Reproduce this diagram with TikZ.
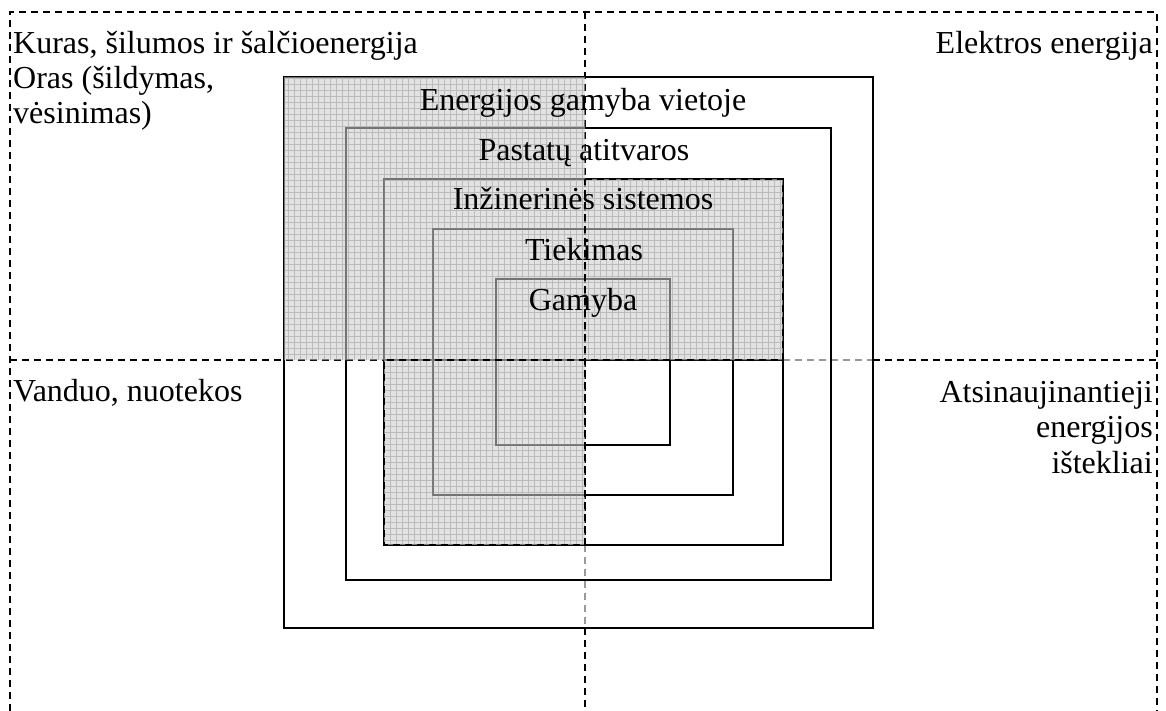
\documentclass[tikz,border=0pt]{standalone}
\usepackage{fontspec}
\setmainfont{Liberation Serif}
\begin{document}
\begin{tikzpicture}[x=1pt,y=-1pt,
  quad/.style={line width=1.4pt, dash pattern=on 7pt off 5pt},
  quadfaint/.style={quad, draw=black!40},
  sqbox/.style={line width=1.8pt, draw=black},
  lbl/.style={font=\fontsize{32}{35}\selectfont, inner sep=0pt},
]
\useasboundingbox (0,0) rectangle (1166,711);

% dashed quadrant frame
\draw[quad] (10,711) -- (10,12) -- (1157,12) -- (1157,711);
\draw[quad] (10,360) -- (783,360);
\draw[quadfaint] (783,360) -- (873,360);
\draw[quad] (873,360) -- (1157,360);
\draw[quad] (585,12) -- (585,545);
\draw[quadfaint] (585,545) -- (585,628);
\draw[quad] (585,628) -- (585,711);

% nested squares
\draw[sqbox] (284,77) rectangle (873,628);
\draw[sqbox] (346,128) rectangle (831,580);
\draw[sqbox] (384,179) rectangle (783,545);
\draw[sqbox] (433,229) rectangle (733,495);
\draw[sqbox] (496,279) rectangle (670,445);

% shaded zone with fine grid
\begin{scope}
  \clip (284,77) -- (585,77) -- (585,179) -- (783,179) -- (783,360)
        -- (585,360) -- (585,545) -- (384,545) -- (384,360) -- (284,360) -- cycle;
  \fill[black!20, opacity=0.56] (284,77) rectangle (783,545);
  \draw[black!45, opacity=0.45, line width=0.6pt, step=6pt] (284,77) grid (783,545);
\end{scope}

% dashed outline of the shaded engineering-systems part
\draw[quad] (585,179) -- (783,179) -- (783,360) -- (384,360) -- (384,545) -- (585,545) -- (585,179);

% square labels
\node[lbl, anchor=base] (l1) at (583,111) {Energijos gamyba vietoje};
\node[lbl, anchor=base] (l2) at (584,161) {Pastatų atitvaros};
\node[lbl, anchor=base] (l3) at (583,210) {Inžinerinės sistemos};
\node[lbl, anchor=base] (l4) at (584,260) {Tiekimas};
\node[lbl, anchor=base] (l5) at (583,310) {Gamyba};

% quadrant labels (first baseline at the anchor)
\node[lbl, anchor=base west] (q1) at (13,54)
  {\baselineskip=35pt\vtop{\halign{#\hfil\cr Kuras, šilumos ir šalčioenergija\cr Oras (šildymas,\cr vėsinimas)\cr}}};
\node[lbl, anchor=base east] (q2) at (1153,54) {Elektros energija};
\node[lbl, anchor=base west] (q3) at (13,401) {Vanduo, nuotekos};
\node[lbl, anchor=base east] (q4) at (1153,402)
  {\baselineskip=35.5pt\vtop{\halign{\hfil#\cr Atsinaujinantieji\cr energijos\cr ištekliai\cr}}};
\end{tikzpicture}
\end{document}
